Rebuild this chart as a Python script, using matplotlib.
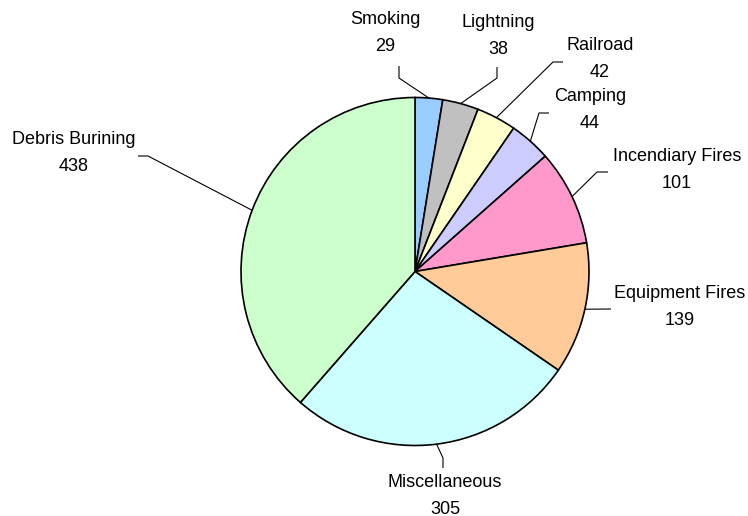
import numpy as np
import matplotlib.pyplot as plt

plt.rcParams['font.family'] = ['Liberation Sans', 'DejaVu Sans']

# fire causes, clockwise from 12 o'clock
causes = ['Smoking', 'Lightning', 'Railroad', 'Camping', 'Incendiary Fires',
          'Equipment Fires', 'Miscellaneous', 'Debris Burining']
counts = [29, 38, 42, 44, 101, 139, 305, 438]
colors = ['#99CCFF', '#C0C0C0', '#FFFFCC', '#CCCCFF', '#FF99CC',
          '#FFCC99', '#CCFFFF', '#CCFFCC']

W, H = 748, 516
cx, cy, r = 415, H - 271.5, 174

# label centres and leader elbows, in pixel coords from top-left
label_xy = [(385, 33), (498, 36), (600, 59), (590, 110), (677, 170),
            (680, 307), (445, 496), (74, 153)]
elbows = [[(399, 78), (399, 66)],
          [(497, 78), (497, 67)],
          [(553, 62), (563, 62)],
          [(539, 113), (549, 113)],
          [(597, 172), (608, 172)],
          [(611, 309)],
          [(443, 458), (443, 468)],
          [(148, 156), (138, 156)]]

fig = plt.figure(figsize=(W / 100, H / 100), dpi=100)
ax = fig.add_axes([0, 0, 1, 1])

wedges, _ = ax.pie(counts, colors=colors, startangle=90, counterclock=False,
                   center=(cx, cy), radius=r, frame=True,
                   wedgeprops=dict(edgecolor='black', linewidth=1.2))
ax.set_xlim(0, W)
ax.set_ylim(0, H)
ax.set_aspect('equal')
ax.axis('off')

for w, name, n, (lx, ly), pts in zip(wedges, causes, counts, label_xy, elbows):
    mid = np.deg2rad((w.theta1 + w.theta2) / 2)
    xs = [cx + r * np.cos(mid)] + [p[0] for p in pts]
    ys = [cy + r * np.sin(mid)] + [H - p[1] for p in pts]
    ax.plot(xs, ys, color='black', lw=0.8, solid_capstyle='butt')
    ax.text(lx, H - ly, f'{name}\n{n}', ha='center', va='center',
            fontsize=13, linespacing=1.7)

fig.savefig('out.png', dpi=100, facecolor='white')
